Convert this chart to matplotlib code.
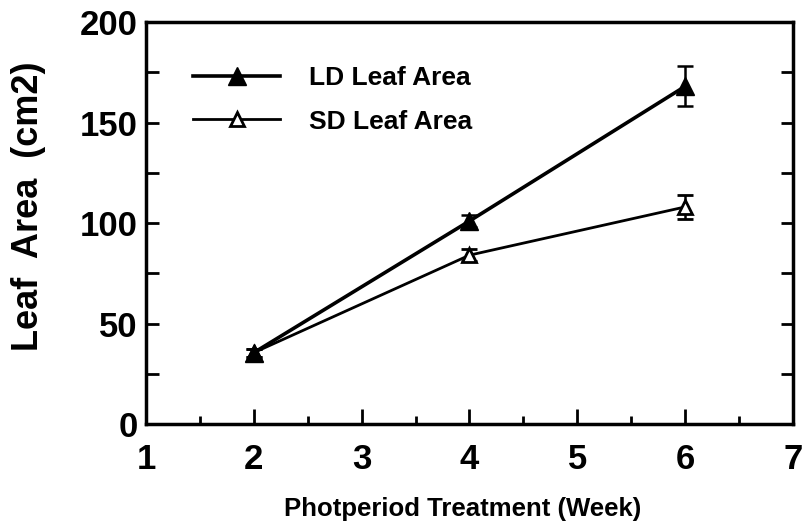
import matplotlib.pyplot as plt
from matplotlib.lines import Line2D
from matplotlib.ticker import MultipleLocator

plt.rcParams['font.family'] = ['Liberation Sans', 'DejaVu Sans']

weeks = [2, 4, 6]
ld_area = [35.5, 101, 168]
ld_err = [2, 3, 10]
sd_area = [35.5, 84, 108]
sd_err = [2, 3, 6]
labels = ['LD Leaf Area', 'SD Leaf Area']

fig = plt.figure(figsize=(8.04, 5.23), dpi=100)
ax = fig.add_axes([0.1816, 0.1893, 0.8047, 0.7686])

ax.errorbar(weeks, sd_area, yerr=sd_err, color='black', lw=2.0, marker='^',
            ms=10, mfc='white', mec='black', mew=2, capsize=6, elinewidth=1.8,
            capthick=1.8, zorder=2)
ax.errorbar(weeks, ld_area, yerr=ld_err, color='black', lw=2.6, marker='^',
            ms=13, mfc='black', mec='black', capsize=6, elinewidth=1.8,
            capthick=1.8, zorder=3)

ax.set_xlim(1, 7)
ax.set_ylim(0, 200)
ax.xaxis.set_major_locator(MultipleLocator(1))
ax.xaxis.set_minor_locator(MultipleLocator(0.5))
ax.yaxis.set_major_locator(MultipleLocator(50))
ax.yaxis.set_minor_locator(MultipleLocator(25))
ax.tick_params(axis='both', which='both', direction='in', width=2)
ax.tick_params(axis='x', which='major', length=11, top=False, pad=14)
ax.tick_params(axis='x', which='minor', length=6, top=False)
ax.tick_params(axis='y', which='both', length=9, right=True)
ax.tick_params(axis='y', which='major', pad=6)
ax.tick_params(axis='both', which='major', labelsize=25)
for lab in ax.get_xticklabels() + ax.get_yticklabels():
    lab.set_fontweight('bold')
for s in ax.spines.values():
    s.set_linewidth(2.5)

ax.set_ylabel('Leaf  Area  (cm2)', fontsize=26, fontweight='bold', va='center')
ax.yaxis.set_label_coords(-0.182, 0.542)
ax.set_xlabel('Photperiod Treatment (Week)', fontsize=18.5, fontweight='bold',
              va='center')
ax.xaxis.set_label_coords(0.49, -0.211)

handles = [
    Line2D([], [], color='black', lw=2.6, marker='^', ms=13, mfc='black'),
    Line2D([], [], color='black', lw=2.0, marker='^', ms=10, mfc='white', mew=2),
]
fig.legend(handles, labels, loc='upper left', bbox_to_anchor=(193 / 804, 0.874),
           frameon=False, prop={'weight': 'bold', 'size': 19},
           borderpad=0, borderaxespad=0, handlelength=3.3,
           handletextpad=1.1, labelspacing=0.75)

fig.savefig('out.png', dpi=100)
